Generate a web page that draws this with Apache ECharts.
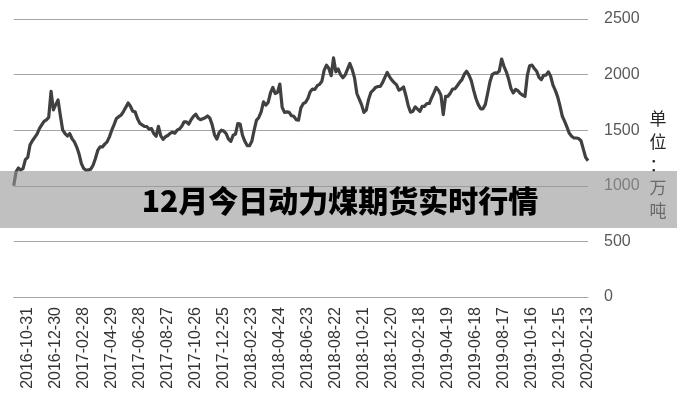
<!DOCTYPE html>
<html>
<head>
<meta charset="utf-8">
<script src="https://cdn.jsdelivr.net/npm/echarts@6/dist/echarts.min.js"></script>
<style>
html,body{margin:0;padding:0;background:#fff;}
#c{width:677px;height:400px;}
</style>
</head>
<body>
<div id="c"></div>
<script>
// Category dates: every 5 days starting 2016-10-01 (labels every 60 days from 2016-10-31)
var startDate = '2016-10-01';
var stepDays = 5;
var labelOffset = 6;   // index of 2016-10-31
var labelEvery = 12;   // 60 days
var tickLabels = ['2016-10-31','2016-12-30','2017-02-28','2017-04-29','2017-06-28','2017-08-27',
  '2017-10-26','2017-12-25','2018-02-23','2018-04-24','2018-06-23','2018-08-22','2018-10-21',
  '2018-12-20','2019-02-18','2019-04-19','2019-06-18','2019-08-17','2019-10-16','2019-12-15','2020-02-13'];

var values = [
1000,1125,1160,1143,1155,1235,1255,1368,1405,1435,
1465,1515,1548,1580,1593,1615,1850,1683,1730,1772,
1630,1500,1470,1448,1470,1423,1395,1348,1285,1200,
1155,1140,1143,1150,1185,1245,1318,1350,1350,1375,
1395,1440,1500,1550,1605,1622,1635,1668,1705,1745,
1715,1670,1665,1605,1563,1548,1535,1533,1508,1515,
1470,1445,1535,1450,1417,1441,1452,1471,1483,1473,
1501,1511,1535,1575,1575,1555,1595,1625,1645,1608,
1595,1603,1612,1628,1610,1550,1460,1420,1478,1500,
1492,1470,1420,1400,1455,1465,1560,1555,1455,1400,
1362,1360,1400,1500,1590,1615,1665,1755,1725,1750,
1835,1885,1830,1840,1915,1705,1660,1665,1660,1630,
1625,1595,1590,1700,1738,1750,1785,1846,1870,1866,
1900,1912,1940,2040,2085,2055,1990,2150,2025,2050,
2000,1972,1997,2050,2100,2045,1970,1830,1780,1730,
1660,1680,1775,1840,1860,1885,1893,1893,1928,1975,
2020,1980,1950,1928,1908,1860,1870,1890,1810,1720,
1662,1670,1710,1690,1670,1715,1715,1740,1740,1790,
1835,1885,1858,1815,1640,1805,1805,1833,1870,1873,
1900,1930,1955,2003,2030,1995,1945,1860,1785,1730,
1692,1692,1730,1830,1935,2000,2015,2013,2032,2140,
2075,2025,1960,1875,1835,1866,1855,1830,1816,1803,
1990,2080,2085,2055,2030,1975,1955,1993,1995,2025,
1985,1905,1858,1800,1718,1625,1580,1528,1472,1445,
1430,1430,1425,1405,1330,1255,1225
];

var yTicks = [0, 500, 1000, 1500, 2000, 2500];
var titleText = '12月今日动力煤期货实时行情';
var unitText = ['单','位','：','万','吨'];

function pad(n){ return n < 10 ? '0' + n : '' + n; }
var categories = [];
(function(){
  var p = startDate.split('-');
  var t0 = Date.UTC(+p[0], +p[1]-1, +p[2]);
  for (var i = 0; i < values.length; i++) {
    var d = new Date(t0 + i * stepDays * 86400000);
    categories.push(d.getUTCFullYear() + '-' + pad(d.getUTCMonth()+1) + '-' + pad(d.getUTCDate()));
  }
})();

var chart = echarts.init(document.getElementById('c'), null, {renderer:'canvas'});
chart.setOption({
  animation: false,
  backgroundColor: '#ffffff',
  grid: {left: 13.7, right: 89, top: 19, bottom: 103, containLabel: false},
  xAxis: {
    type: 'category',
    data: categories,
    boundaryGap: false,
    axisLine: {show: true, lineStyle: {color: '#a6a6a6', width: 1}},
    axisTick: {show: false},
    axisLabel: {
      rotate: 90,
      margin: 10,
      color: '#333333',
      fontSize: 16,
      fontFamily: 'Liberation Sans, Arial, sans-serif',
      hideOverlap: false,
      interval: function(idx){ return (idx - labelOffset) % labelEvery === 0; }
    },
    splitLine: {show: false}
  },
  yAxis: {
    type: 'value',
    position: 'right',
    min: yTicks[0],
    max: yTicks[yTicks.length-1],
    interval: yTicks[1] - yTicks[0],
    axisLine: {show: false},
    axisTick: {show: false},
    axisLabel: {
      margin: 16, color: '#595959', fontSize: 16,
      fontFamily: 'Liberation Sans, Arial, sans-serif',
      formatter: function(v){ return String(v); }
    },
    splitLine: {show: true, lineStyle: {color: '#a6a6a6', width: 1}}
  },
  series: [{
    type: 'line',
    data: values,
    showSymbol: false,
    symbol: 'none',
    lineStyle: {color: '#404040', width: 3.2, join: 'round'},
    z: 3
  }],
  graphic: [
    {
      type: 'text',
      z: 1,
      x: 658,
      y: 107,
      style: {
        text: unitText.join('\n'),
        fill: '#262626',
        font: '17px "Noto Sans CJK SC"',
        lineHeight: 23,
        textAlign: 'center',
        textVerticalAlign: 'top'
      }
    },
    {
      type: 'rect',
      z: 50,
      shape: {x: 0, y: 171, width: 677, height: 57},
      style: {fill: 'rgba(150,150,150,0.6)'}
    },
    {
      type: 'text',
      z: 60,
      x: 340,
      y: 201,
      style: {
        text: titleText,
        fill: '#000000',
        font: '900 30px "Noto Sans CJK SC"',
        textAlign: 'center',
        textVerticalAlign: 'middle'
      }
    }
  ]
});
</script>
</body>
</html>
